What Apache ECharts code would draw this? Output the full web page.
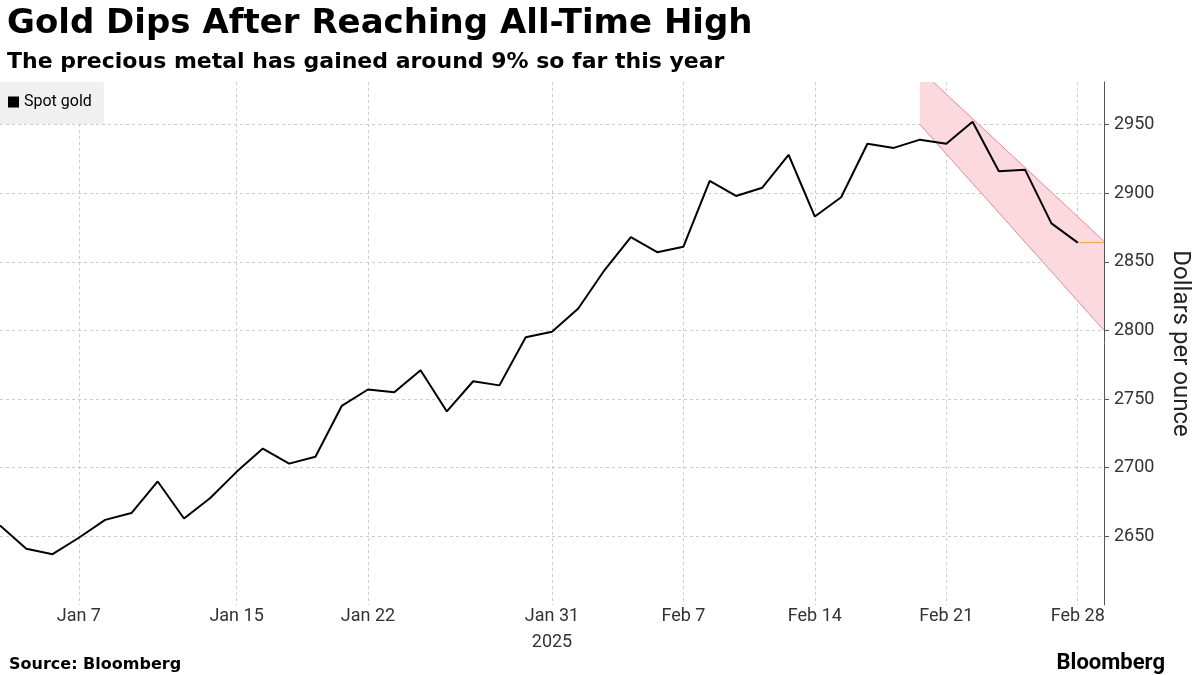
<!DOCTYPE html>
<html><head><meta charset="utf-8">
<script src="https://cdn.jsdelivr.net/npm/echarts@6/dist/echarts.min.js"></script>
<style>body{margin:0;background:#fff}#c{width:1200px;height:675px}</style></head>
<body><div id="c"></div>
<script>
const dates = ['Jan 2','Jan 3','Jan 6','Jan 7','Jan 8','Jan 9','Jan 10','Jan 13','Jan 14','Jan 15','Jan 16','Jan 17','Jan 20','Jan 21','Jan 22','Jan 23','Jan 24','Jan 27','Jan 28','Jan 29','Jan 30','Jan 31','Feb 3','Feb 4','Feb 5','Feb 6','Feb 7','Feb 10','Feb 11','Feb 12','Feb 13','Feb 14','Feb 17','Feb 18','Feb 19','Feb 20','Feb 21','Feb 24','Feb 25','Feb 26','Feb 27','Feb 28',''];
const gold = [2658,2641,2637,2649,2662,2667,2690,2663,2678,2697,2714,2703,2708,2745,2757,2755,2771,2741,2763,2760,2795,2799,2816,2844,2868,2857,2861,2909,2898,2904,2928,2883,2897,2936,2933,2939,2936,2952,2916,2917,2878,2864];
const tickLabels = ['Jan 7','Jan 15','Jan 22','Jan 31','Feb 7','Feb 14','Feb 21','Feb 28'];
const channelX = [35, 42];
const channelUpper = [2990, 2865];
const channelLower = [2950, 2800];
const lastX = [41, 42];
const lastVal = [2864, 2864];

const chart = echarts.init(document.getElementById('c'));
const F = 'Roboto, "Liberation Sans", sans-serif';
chart.setOption({
  animation:false,
  textStyle:{fontFamily:F},
  title:[
    {text:'Gold Dips After Reaching All-Time High',left:2,top:2,textStyle:{fontSize:34,fontWeight:'bold',color:'#000',fontFamily:'"DejaVu Sans", sans-serif'}},
    {text:'The precious metal has gained around 9% so far this year',left:2,top:46,textStyle:{fontSize:22,fontWeight:'bold',color:'#000',fontFamily:'"DejaVu Sans", sans-serif'}},
    {text:'Source: Bloomberg',left:4,top:652,textStyle:{fontSize:16,fontWeight:'bold',color:'#000',fontFamily:'"DejaVu Sans", sans-serif'}},
    {text:'Bloomberg',right:30,top:647,textStyle:{fontSize:22,fontWeight:'bold',color:'#000'}}
  ],
  legend:{left:0,top:82,padding:[12,12,14,8],backgroundColor:'#f0f0f0',icon:'rect',itemWidth:11,itemHeight:11,itemGap:4,
    textStyle:{fontSize:16,color:'#000'},data:[{name:'Spot gold',itemStyle:{color:'#000'}}]},
  grid:{left:0,right:92,top:82,bottom:70},
  xAxis:{type:'category',data:dates,boundaryGap:false,
    axisLine:{show:false},axisTick:{show:false},
    axisLabel:{interval:(i,v)=>tickLabels.includes(v),fontSize:18,color:'#333',margin:-2,
      formatter:v=>v==='Jan 31'?'Jan 31\n2025':v,lineHeight:26},
    splitLine:{show:true,interval:(i,v)=>tickLabels.includes(v),lineStyle:{color:'#ccc',type:[3,3]}}},
  yAxis:{type:'value',position:'right',min:2600,max:2981,interval:50,
    name:'Dollars per ounce',nameLocation:'middle',nameRotate:-90,nameGap:64,
    nameTextStyle:{fontSize:24,color:'#222'},
    axisLine:{show:true,lineStyle:{color:'#555'}},axisTick:{show:true,length:5,lineStyle:{color:'#555'}},
    axisLabel:{fontSize:18,color:'#333',margin:10,showMinLabel:false,showMaxLabel:false,formatter:v=>String(v)},
    splitLine:{showMinLine:false,showMaxLine:false,lineStyle:{color:'#ccc',type:[3,3]}}},
  series:[
    {type:'custom',silent:true,clip:true,z:1,
      data:[0],
      renderItem:(p,api)=>{
        const pts=[api.coord([channelX[0],channelUpper[0]]),api.coord([channelX[1],channelUpper[1]]),
                   api.coord([channelX[1],channelLower[1]]),api.coord([channelX[0],channelLower[0]])];
        const cs=p.coordSys;
        return {type:'group',children:[
          {type:'polygon',shape:{points:pts},style:{fill:'#fcd9de',stroke:null}},
          {type:'line',shape:{x1:pts[0][0],y1:pts[0][1],x2:pts[1][0],y2:pts[1][1]},style:{stroke:'#e08a98',lineWidth:1}},
          {type:'line',shape:{x1:pts[3][0],y1:pts[3][1],x2:pts[2][0],y2:pts[2][1]},style:{stroke:'#e08a98',lineWidth:1}}
        ],clipPath:{type:'rect',shape:{x:cs.x,y:cs.y,width:cs.width,height:cs.height}}};
      }},
    {name:'Spot gold',type:'line',data:gold,symbol:'none',lineStyle:{color:'#000',width:2},itemStyle:{color:'#000'},z:3},
    {type:'line',data:lastX.map((x,i)=>[x,lastVal[i]]),symbol:'none',lineStyle:{color:'#f0a050',width:1},z:2}
  ]
});
</script></body></html>
